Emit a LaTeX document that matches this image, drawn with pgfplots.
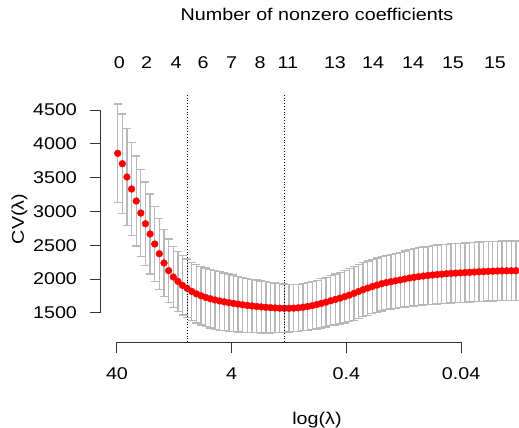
\documentclass[border=0pt]{standalone}
\usepackage{fontspec}
\setmainfont{Liberation Sans}[FakeStretch=1.16]
\usepackage{pgfplots}
\usepackage{pgfplotstable}
\pgfplotsset{compat=1.18}
\definecolor{ebar}{HTML}{B8B8B8}
\definecolor{axgray}{HTML}{333333}
\newcommand\ff{\fontsize{17pt}{20pt}\selectfont}
\pgfplotstableread{
x m s
3.675 3859 730
3.582 3706 735
3.489 3509 713
3.396 3331 688
3.303 3154 665
3.210 2976 639
3.117 2818 618
3.024 2666 591
2.931 2518 555
2.838 2374 525
2.745 2237 498
2.652 2123 471
2.559 2030 450
2.466 1966 442
2.373 1905 438
2.280 1862 436
2.187 1815 434
2.094 1780 433
2.001 1752 432
1.908 1728 433
1.815 1708 434
1.722 1690 434
1.629 1675 432
1.536 1662 428
1.443 1650 424
1.350 1639 420
1.257 1628 414
1.164 1618 407
1.071 1609 400
0.979 1601 395
0.886 1594 390
0.793 1587 385
0.700 1581 380
0.607 1576 374
0.514 1572 368
0.421 1568 363
0.328 1566 358
0.235 1566 352
0.142 1569 348
0.049 1574 347
-0.044 1582 348
-0.137 1593 352
-0.230 1606 356
-0.323 1622 360
-0.416 1640 364
-0.509 1658 368
-0.602 1678 371
-0.695 1697 376
-0.788 1717 382
-0.881 1738 388
-0.974 1762 392
-1.067 1787 396
-1.160 1815 398
-1.253 1843 400
-1.346 1866 401
-1.439 1889 402
-1.532 1910 402
-1.625 1930 402
-1.717 1946 402
-1.810 1960 403
-1.903 1973 406
-1.996 1986 410
-2.089 2000 415
-2.182 2014 420
-2.275 2026 424
-2.368 2035 427
-2.461 2044 430
-2.554 2052 432
-2.647 2059 434
-2.740 2066 435
-2.833 2072 436
-2.926 2078 437
-3.019 2083 438
-3.112 2087 438
-3.205 2091 439
-3.298 2095 439
-3.391 2099 439
-3.484 2103 440
-3.577 2107 440
-3.670 2110 440
-3.763 2113 440
-3.856 2116 441
-3.949 2118 441
-4.042 2120 441
-4.134 2121 441
-4.227 2122 441
-4.320 2123 441
}\cvdata
\begin{document}
\begin{tikzpicture}
\path[use as bounding box] (-101pt,-86pt) rectangle (418pt,342pt);
\begin{axis}[
  at={(0,0)}, anchor=south west,
  scale only axis, width=418pt, height=248pt,
  x dir=reverse, xmin=-4.382, xmax=4.010,
  ymin=1068, ymax=4737,
  clip mode=individual,
  axis line style={draw=none},
  tick pos=left, tick align=outside,
  major tick length=11pt,
  tick style={axgray, line width=1pt},
  xtick={3.6889,1.3863,-0.9163,-3.2189},
  xticklabels={40,4,0.4,0.04},
  ytick={1500,2000,2500,3000,3500,4000,4500},
  yticklabels={1500,2000,2500,3000,3500,4000,4500},
  ticklabel style={font=\ff, black},
  xticklabel style={yshift=-11pt},
  yticklabel style={xshift=-9.5pt},
]
\addplot[draw=none, mark=none, error bars/.cd, y dir=both, y explicit,
  error bar style={ebar, line width=1.3pt},
  error mark options={ebar, line width=1.3pt, mark size=4pt, rotate=90}]
  table[x=x, y=m, y error=s] {\cvdata};
\addplot[only marks, mark=*, mark size=3.4pt, red, mark options={draw=red, fill=red}]
  table[x=x, y=m] {\cvdata};
\addplot[black, dotted, line width=0.8pt] coordinates {(2.280,1068) (2.280,4737)};
\addplot[black, dotted, line width=0.8pt] coordinates {(0.328,1068) (0.328,4737)};
\draw[axgray, line width=1pt] (axis cs:4.010,1500) -- (axis cs:4.010,4500);
\draw[axgray, line width=1pt] (axis cs:3.6889,1068) -- (axis cs:-3.2189,1068);
\node[font=\ff, anchor=base] at ([yshift=25.7pt]axis cs:3.643,4737) {0};
\node[font=\ff, anchor=base] at ([yshift=25.7pt]axis cs:3.093,4737) {2};
\node[font=\ff, anchor=base] at ([yshift=25.7pt]axis cs:2.504,4737) {4};
\node[font=\ff, anchor=base] at ([yshift=25.7pt]axis cs:1.962,4737) {6};
\node[font=\ff, anchor=base] at ([yshift=25.7pt]axis cs:1.386,4737) {7};
\node[font=\ff, anchor=base] at ([yshift=25.7pt]axis cs:0.818,4737) {8};
\node[font=\ff, anchor=base] at ([yshift=25.7pt]axis cs:0.256,4737) {11};
\node[font=\ff, anchor=base] at ([yshift=25.7pt]axis cs:-0.688,4737) {13};
\node[font=\ff, anchor=base] at ([yshift=25.7pt]axis cs:-1.451,4737) {14};
\node[font=\ff, anchor=base] at ([yshift=25.7pt]axis cs:-2.254,4737) {14};
\node[font=\ff, anchor=base] at ([yshift=25.7pt]axis cs:-3.057,4737) {15};
\node[font=\ff, anchor=base] at ([yshift=25.7pt]axis cs:-3.900,4737) {15};
\node[font=\ff, anchor=base] at ([yshift=73pt]rel axis cs:0.5167,1) {Number of nonzero coefficients};
\node[font=\ff, anchor=base] at ([yshift=-82pt]rel axis cs:0.5167,0) {log(λ)};
\node[font=\ff, rotate=90, anchor=center] at ([xshift=-81.5pt]rel axis cs:0,0.496) {CV(λ)};
\end{axis}
\end{tikzpicture}
\end{document}
